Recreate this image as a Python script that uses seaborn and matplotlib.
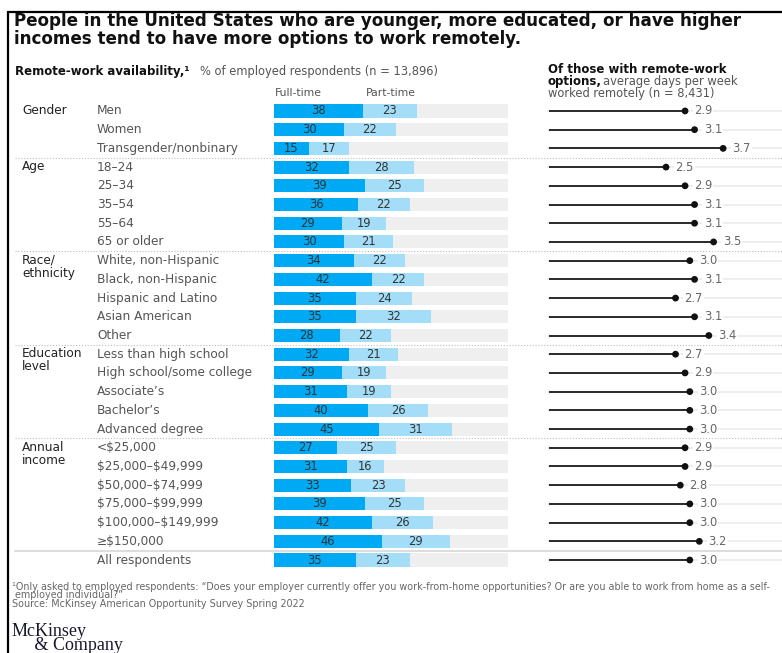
import numpy as np
import pandas as pd
import matplotlib
matplotlib.use("Agg")
import matplotlib.pyplot as plt
import seaborn as sns
from matplotlib import transforms
from matplotlib.lines import Line2D

# ---------------- data ----------------
groups = ["Gender", "Age", "Race/\nethnicity", "Education\nlevel", "Annual\nincome", ""]
group_sizes = [3, 5, 5, 5, 6, 1]
categories = [
    "Men", "Women", "Transgender/nonbinary",
    "18\u201324", "25\u201334", "35\u201354", "55\u201364", "65 or older",
    "White, non-Hispanic", "Black, non-Hispanic", "Hispanic and Latino", "Asian American", "Other",
    "Less than high school", "High school/some college", "Associate\u2019s", "Bachelor\u2019s", "Advanced degree",
    "<$25,000", "$25,000\u2013$49,999", "$50,000\u2013$74,999", "$75,000\u2013$99,999",
    "$100,000\u2013$149,999", "\u2265$150,000",
    "All respondents",
]
full_time = [38, 30, 15, 32, 39, 36, 29, 30, 34, 42, 35, 35, 28, 32, 29, 31, 40, 45,
             27, 31, 33, 39, 42, 46, 35]
part_time = [23, 22, 17, 28, 25, 22, 19, 21, 22, 22, 24, 32, 22, 21, 19, 19, 26, 31,
             25, 16, 23, 25, 26, 29, 23]
remote_days = [2.9, 3.1, 3.7, 2.5, 2.9, 3.1, 3.1, 3.5, 3.0, 3.1, 2.7, 3.1, 3.4, 2.7, 2.9,
               3.0, 3.0, 3.0, 2.9, 2.9, 2.8, 3.0, 3.0, 3.2, 3.0]
series_labels = ["Full-time", "Part-time"]

# ---------------- style ----------------
sns.set_theme(style="white")
plt.rcParams["font.family"] = ["DejaVu Sans"]
plt.rcParams["text.parse_math"] = False

C_FULL = "#00A9F4"
C_PART = "#A3DDF8"
C_BG = "#EFEFEF"
C_TXT = "#333333"
C_CAT = "#555555"

W, H = 782, 653
fig = plt.figure(figsize=(W / 100, H / 100), dpi=100)
fig.patch.set_facecolor("white")

def fx(x):
    return x / W

def fy(y):
    return 1 - y / H

n = len(categories)
df = pd.DataFrame({
    "category": categories,
    "full": full_time,
    "part": part_time,
    "days": remote_days,
})
df["total"] = df["full"] + df["part"]
df["track"] = 100
df["pos"] = np.arange(n)

row_top, row_bot = 101.6, 569.4
ax_b = fig.add_axes([fx(274), fy(row_bot), fx(508) - fx(274), (row_bot - row_top) / H])
sns.barplot(data=df, y="category", x="track", color=C_BG, saturation=1, width=0.7,
            linewidth=0, orient="h", ax=ax_b, order=categories)
sns.barplot(data=df, y="category", x="total", color=C_PART, saturation=1, width=0.7,
            linewidth=0, orient="h", ax=ax_b, order=categories)
sns.barplot(data=df, y="category", x="full", color=C_FULL, saturation=1, width=0.7,
            linewidth=0, orient="h", ax=ax_b, order=categories)
ax_b.set_xlim(0, 100)
ax_b.set_ylim(n - 0.5, -0.5)
ax_b.axis("off")

for i, (f, p) in enumerate(zip(full_time, part_time)):
    ax_b.text(f / 2, i, str(f), ha="center", va="center", fontsize=8.3, color=C_TXT)
    ax_b.text(f + p / 2, i, str(p), ha="center", va="center", fontsize=8.3, color=C_TXT)

# lollipop panel
ax_l = fig.add_axes([fx(547), fy(row_bot), 1 - fx(547), (row_bot - row_top) / H])
ax_l.hlines(df["pos"], 0, 5, color="#EDEDED", lw=1.3, zorder=1)
ax_l.hlines(df["pos"], 0.05, df["days"], color="#1A1A1A", lw=1.3, zorder=2)
sns.scatterplot(data=df, x="days", y="pos", color="#111111", s=24, edgecolor="none",
                ax=ax_l, zorder=3, legend=False)
for i, v in enumerate(remote_days):
    ax_l.text(v + 0.19, i, f"{v:.1f}", ha="left", va="center", fontsize=8.3, color="#666666",
              zorder=4, bbox=dict(facecolor="white", edgecolor="none", pad=0.8))
ax_l.set_xlim(0, (W - 547) / 47.6)
ax_l.set_ylim(n - 0.5, -0.5)
ax_l.axis("off")

# row labels
tr = transforms.blended_transform_factory(fig.transFigure, ax_b.transData)
for i, c in enumerate(categories):
    fig.text(fx(97), i, c, transform=tr, ha="left", va="center", fontsize=8.7, color=C_CAT)

start = 0
for g, s in zip(groups, group_sizes):
    if g:
        fig.text(fx(22), start - 0.36, g, transform=tr, ha="left", va="top", fontsize=8.7,
                 color="#222222", linespacing=1.0)
    start += s

# separators
bounds = np.cumsum(group_sizes)[:-1]
for k, b in enumerate(bounds):
    if k < len(bounds) - 1:
        fig.add_artist(Line2D([fx(15), 1], [b - 0.5, b - 0.5], transform=tr,
                              color="#BDBDBD", lw=0.8, linestyle=(0, (1, 1.6))))
    else:
        fig.add_artist(Line2D([fx(15), 1], [b - 0.5, b - 0.5], transform=tr,
                              color="#DDDDDD", lw=1.4))

# headers
fig.text(fx(298), fy(93), series_labels[0], ha="center", va="center", fontsize=7.8, color=C_CAT)
fig.text(fx(391), fy(93), series_labels[1], ha="center", va="center", fontsize=7.8, color=C_CAT)

fig.text(fx(14), fy(21), "People in the United States who are younger, more educated, or have higher",
         ha="left", va="center", fontsize=12.1, fontweight="bold", color="#111111")
fig.text(fx(14), fy(39), "incomes tend to have more options to work remotely.",
         ha="left", va="center", fontsize=12.1, fontweight="bold", color="#111111")

fig.text(fx(15), fy(72), "Remote-work availability,\u00b9", ha="left", va="center",
         fontsize=8.5, fontweight="bold", color="#111111")
fig.text(fx(200), fy(72), "% of employed respondents (n = 13,896)", ha="left", va="center",
         fontsize=8.3, color=C_CAT)

fig.text(fx(548), fy(69.5), "Of those with remote-work", ha="left", va="center",
         fontsize=8.5, fontweight="bold", color="#111111")
fig.text(fx(548), fy(82), "options,", ha="left", va="center",
         fontsize=8.5, fontweight="bold", color="#111111")
fig.text(fx(603), fy(82), "average days per week", ha="left", va="center",
         fontsize=8.3, color=C_CAT)
fig.text(fx(548), fy(94), "worked remotely (n = 8,431)", ha="left", va="center",
         fontsize=8.3, color=C_CAT)

# footnotes
fig.text(fx(12), fy(587), "\u00b9Only asked to employed respondents: \u201cDoes your employer currently offer you "
         "work-from-home opportunities? Or are you able to work from home as a self-",
         ha="left", va="center", fontsize=6.95, color="#666666")
fig.text(fx(15), fy(595.5), "employed individual?\u201d", ha="left", va="center", fontsize=6.95, color="#666666")
fig.text(fx(12), fy(604), "Source: McKinsey American Opportunity Survey Spring 2022", ha="left",
         va="center", fontsize=6.95, color="#666666")

fig.text(fx(12), fy(623), "McKinsey\n     & Company", ha="left", va="top", fontsize=13,
         family="Liberation Serif", color="#1a1a2e", linespacing=0.74)

# frame
fig.add_artist(Line2D([fx(8), 1], [fy(12), fy(12)], transform=fig.transFigure, color="black", lw=1.6))
fig.add_artist(Line2D([fx(8), fx(8)], [fy(12), 0], transform=fig.transFigure, color="black", lw=1.6))

fig.savefig("out.png", dpi=100, facecolor="white")
